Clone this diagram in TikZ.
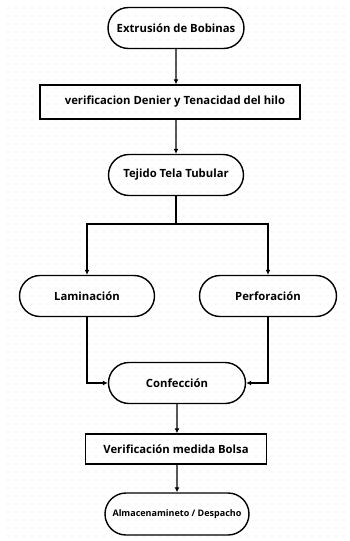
\documentclass[tikz,border=0pt]{standalone}
\usepackage{fontspec}
\setmainfont{Open Sans}
\usetikzlibrary{arrows.meta,positioning,shapes.misc}
\begin{document}
\begin{tikzpicture}[
    x=1pt, y=-1pt,
    stadium/.style={rounded rectangle, draw, line width=1.4pt, minimum height=41pt, inner xsep=4pt, font=\fontsize{11.3}{13}\selectfont\bfseries},
    procbox/.style={rectangle, draw, line width=1.4pt, font=\fontsize{11.3}{13}\selectfont\bfseries},
    arrow/.style={-{Latex[length=5pt,width=5pt]}, line width=1.4pt},
    line/.style={line width=1.4pt}
]
    % fondo punteado
    \useasboundingbox (0,0) rectangle (349,541);
    \fill[white] (0,0) rectangle (349,541);
    \foreach \i in {1,...,43}{
        \foreach \j in {1,...,67}{
            \fill[gray!30] (8*\i,8*\j) circle (0.6pt);
        }
    }

    \node (extrusion) at (176,28) [stadium, minimum width=144pt] {Extrusión de Bobinas};
    \node (denier) at (170,102) [procbox, minimum width=260pt, minimum height=34pt] {\hspace{10pt}verificacion Denier y Tenacidad del hilo};
    \node (tejido) at (176,175) [stadium, minimum width=143pt] {Tejido Tela Tubular};

    \node (laminacion) at (87,296) [stadium, minimum width=143pt] {Laminación};
    \node (perforacion) at (268,296) [stadium, minimum width=145pt] {Perforación};

    \node (confeccion) at (177,383) [stadium, minimum width=145pt] {Confección};
    \node (bolsa) at (176,449) [procbox, minimum width=181pt, minimum height=30pt] {Verificación medida Bolsa};
    \node (despacho) at (177,514) [stadium, minimum width=152pt, minimum height=42pt, font=\fontsize{9}{11}\selectfont\bfseries] {Almacenamineto / Despacho};

    \coordinate (split) at (176,224);

    \draw[arrow] (extrusion) -- (extrusion |- denier.north);
    \draw[arrow] (denier.south -| tejido) -- (tejido);
    \draw[line] (tejido) -- (split);
    \draw[arrow] (split) -| (laminacion);
    \draw[arrow] (split) -| (perforacion);

    \draw[arrow] (laminacion) |- (confeccion);
    \draw[arrow] (perforacion) |- (confeccion);

    \draw[arrow] (confeccion) -- (confeccion |- bolsa.north);
    \draw[arrow] (bolsa.south -| despacho) -- (despacho);

\end{tikzpicture}
\end{document}
